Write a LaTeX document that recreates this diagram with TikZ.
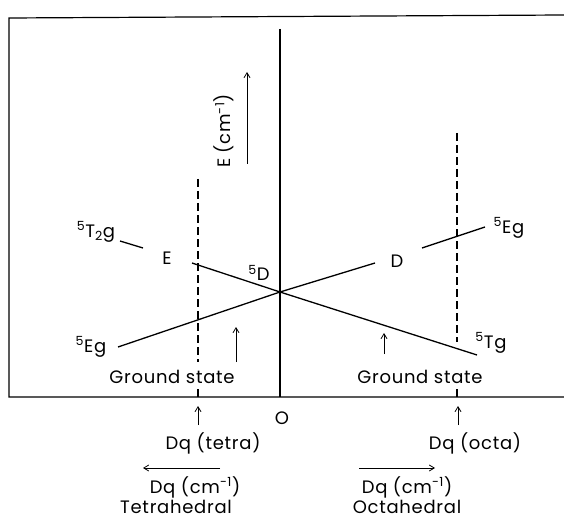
\documentclass[tikz,border=0pt]{standalone}
\usepackage{fontspec}
\setmainfont{Poppins}[LetterSpace=4]
\usetikzlibrary{arrows.meta}
\begin{document}
\begin{tikzpicture}[x=1pt,y=-1pt,
  lbl/.style={font=\fontsize{18}{20}\selectfont, inner sep=0pt},
  mainline/.style={line width=1.3pt},
  frame/.style={line width=1.2pt},
  dashline/.style={line width=1.3pt, dash pattern=on 8pt off 4pt},
  arr/.style={-{Straight Barb[length=5pt,width=6pt]}, line width=0.8pt}]
\useasboundingbox (0,0) rectangle (564,521);
% frame
\coordinate (tl) at (9,18);
\coordinate (tr) at (564,15);
\coordinate (bl) at (9,397);
\coordinate (br) at (564,397);
\draw[frame] (tr) -- (tl) -- (bl) -- (br);
% central axis
\coordinate (ctop) at (280,29);
\coordinate (cbot) at (280,397);
\draw[line width=1.6pt] (ctop) -- (cbot);
% crossing point
\coordinate (X) at (280,292);
% dashed lines
\coordinate (dlt) at (198,179);
\coordinate (dlb) at (198,362);
\coordinate (dlt2) at (198,389);
\coordinate (dlb2) at (198,397);
\draw[dashline] (dlt) -- (dlb);
\draw[mainline] (dlt2) -- (dlb2);
\coordinate (drt) at (457,133);
\coordinate (drb) at (457,342);
\coordinate (drt2) at (457,389);
\coordinate (drb2) at (457,397);
\draw[dashline] (drt) -- (drb);
\draw[mainline] (drt2) -- (drb2);
% energy arrow and label
\coordinate (ea1) at (247,164);
\coordinate (ea2) at (247,72);
\draw[arr] (ea1) -- (ea2);
\node[lbl, rotate=90] (elab) at (224,131) {E (cm\textsuperscript{-1})};
% labels
\node[lbl] (t2g) at (96,232) {\textsuperscript{5}T\textsubscript{2}g};
\node[lbl] (Elab) at (167,258) {E};
\node[lbl] (D5) at (259,273) {\textsuperscript{5}D};
\node[lbl] (Dlab) at (397,261) {D};
\node[lbl] (egr) at (509,228) {\textsuperscript{5}Eg};
\node[lbl] (tg) at (491,343) {\textsuperscript{5}Tg};
\node[lbl] (egl) at (91,347) {\textsuperscript{5}Eg};
% line A: T2g -- Tg
\coordinate (a1) at (120,241);
\coordinate (a2) at (143,248);
\coordinate (a3) at (192,263);
\coordinate (a4) at (477,355);
\draw[mainline] (a1) -- (a2);
\draw[mainline] (a3) -- (X) -- (a4);
% line B: Eg -- Eg
\coordinate (b1) at (118,347);
\coordinate (b2) at (375,263);
\coordinate (b3) at (422,248);
\coordinate (b4) at (485,227);
\draw[mainline] (b1) -- (X) -- (b2);
\draw[mainline] (b3) -- (b4);
% ground state
\coordinate (g1a) at (236,362);
\coordinate (g1b) at (236,327);
\draw[arr] (g1a) -- (g1b);
\node[lbl] (gs1) at (172,377) {Ground state};
\coordinate (g2a) at (384,354);
\coordinate (g2b) at (384,333);
\draw[arr] (g2a) -- (g2b);
\node[lbl] (gs2) at (420,377) {Ground state};
% below axis
\node[lbl] (O) at (282,418) {O};
\coordinate (t1a) at (198,425);
\coordinate (t1b) at (198,406);
\draw[arr] (t1a) -- (t1b);
\coordinate (t2a) at (458,425);
\coordinate (t2b) at (458,406);
\draw[arr] (t2a) -- (t2b);
\node[lbl] (dqt) at (213,443) {Dq (tetra)};
\node[lbl] (dqo) at (475,443) {Dq (octa)};
\coordinate (h1a) at (220,468);
\coordinate (h1b) at (143,468);
\draw[arr] (h1a) -- (h1b);
\coordinate (h2a) at (359,468);
\coordinate (h2b) at (435,468);
\draw[arr] (h2a) -- (h2b);
\node[lbl] (dqc1) at (195,487) {Dq (cm\textsuperscript{-1})};
\node[lbl] (dqc2) at (407,487) {Dq (cm\textsuperscript{-1})};
\node[lbl] (tet) at (176,507) {Tetrahedral};
\node[lbl] (oct) at (407,507) {Octahedral};
\end{tikzpicture}
\end{document}
